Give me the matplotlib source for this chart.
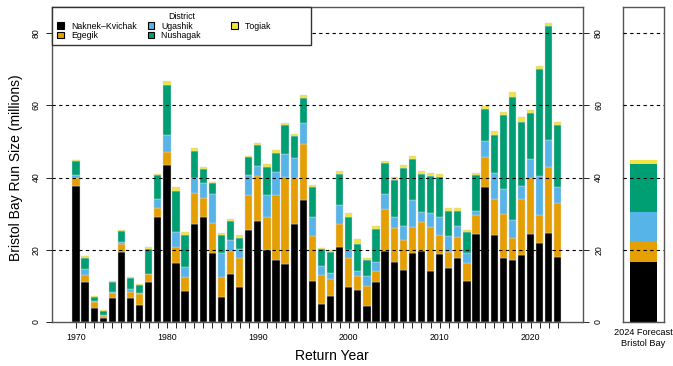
#Bristol Bay sockeye run size by district, 1970-2023 + 2024 forecast

import numpy as np
from matplotlib import pyplot as plt
from matplotlib.patches import Patch

plt.rcParams['font.family'] = ['Liberation Sans', 'DejaVu Sans']

years = list(range(1970, 2024))

naknek_kvichak = [37.7, 11.1, 3.8, 1.0, 6.6, 19.3, 6.7, 4.6, 11.1, 29.2,
                  43.5, 16.2, 8.7, 27.2, 29.0, 19.1, 6.9, 13.3, 9.6, 25.4,
                  28.0, 19.9, 17.1, 16.0, 27.2, 33.9, 11.3, 4.9, 7.3, 20.8,
                  9.6, 8.9, 4.4, 11.0, 19.6, 16.6, 14.3, 19.0, 19.7, 14.1,
                  18.9, 14.9, 17.7, 11.3, 24.4, 37.3, 24.1, 17.6, 17.2, 18.6,
                  24.4, 22.0, 24.6, 18.1]
egegik = [2.2, 1.8, 1.7, 0.75, 1.5, 2.3, 1.7, 3.1, 2.2, 2.3,
          3.5, 4.6, 3.8, 8.6, 5.4, 8.2, 5.5, 6.3, 8.1, 9.7,
          12.4, 9.3, 18.0, 24.1, 12.7, 15.5, 12.5, 8.0, 4.5, 6.3,
          8.1, 3.7, 5.7, 3.0, 11.6, 9.5, 8.5, 7.2, 7.9, 12.2,
          5.1, 4.5, 5.8, 5.0, 5.1, 8.5, 9.9, 12.4, 6.0, 15.4,
          15.5, 7.6, 18.2, 14.8]
ugashik = [0.9, 1.9, 0.2, 0.2, 0.3, 0.6, 0.7, 0.4, 0.1, 2.5,
           4.7, 4.2, 2.6, 4.1, 4.2, 8.0, 6.8, 3.0, 2.4, 5.5,
           2.9, 5.9, 6.4, 6.3, 5.6, 5.8, 5.4, 2.5, 1.9, 5.4,
           2.1, 1.4, 2.5, 2.6, 4.2, 3.1, 3.8, 7.7, 2.9, 3.9,
           5.1, 4.3, 3.1, 2.8, 1.1, 4.2, 7.2, 6.7, 4.9, 3.6,
           5.2, 10.7, 7.6, 4.4]
nushagak = [3.7, 3.0, 1.1, 1.2, 2.7, 3.0, 3.0, 2.1, 6.8, 6.6,
            13.8, 11.3, 8.9, 7.4, 3.8, 3.1, 4.9, 5.4, 3.1, 5.1,
            5.7, 7.8, 5.3, 8.0, 6.0, 6.9, 8.3, 4.9, 5.8, 8.6,
            9.2, 7.6, 4.7, 9.1, 8.6, 10.2, 16.1, 11.1, 10.5, 10.2,
            11.1, 7.0, 4.1, 5.7, 10.0, 9.0, 10.7, 20.7, 34.1, 17.9,
            12.8, 29.7, 31.6, 17.2]
togiak = [0.4, 0.5, 0.3, 0.3, 0.3, 0.4, 0.4, 0.4, 0.7, 0.5,
          1.2, 1.0, 0.9, 0.9, 0.4, 0.3, 0.4, 0.5, 1.0, 0.3,
          0.5, 0.8, 0.9, 0.7, 0.5, 0.7, 0.5, 0.3, 0.3, 0.7,
          1.1, 1.3, 0.4, 1.0, 0.6, 0.7, 0.8, 0.9, 0.9, 0.8,
          0.8, 0.9, 0.9, 0.7, 0.6, 0.8, 0.9, 0.8, 1.4, 1.3,
          0.8, 1.0, 0.9, 0.8]

#2024 forecast, same district order
forecast = [16.6, 5.6, 8.3, 13.3, 1.0]

districts = ['Naknek\u2013Kvichak', 'Egegik', 'Ugashik', 'Nushagak', 'Togiak']
colors = ['#000000', '#E69F00', '#56B4E9', '#009E73', '#F0E442']
series = [naknek_kvichak, egegik, ugashik, nushagak, togiak]

fig = plt.figure(figsize=(6.73, 3.66), dpi=100)
ax = fig.add_axes([52/673, 44/366, 531/673, 315/366])
ax2 = fig.add_axes([623/673, 44/366, 41/673, 315/366])

#MAIN PANEL
bottom = np.zeros(len(years))
for vals, col in zip(series, colors):
    ax.bar(years, vals, bottom=bottom, width=0.8, color=col,
           edgecolor='#d8d8d8', linewidth=0.3, zorder=2)
    bottom += np.array(vals)

ax.set_xlim(1967.36, 2025.77)
ax.set_ylim(0, 87.2)
for g in [20, 40, 60, 80]:
    ax.axhline(g, color='black', lw=0.8, ls=(0, (3, 3)), zorder=3)

ax.set_xticks(years)
ax.set_xticklabels([str(y) if y % 10 == 0 else '' for y in years], fontsize=6.3)
ax.set_yticks([0, 20, 40, 60, 80])
ax.set_yticklabels(['0', '20', '40', '60', '80'], fontsize=6.3, rotation=90, va='center')
ax.tick_params(axis='y', which='both', left=True, right=True, labelright=True,
               length=4.5, width=0.6, pad=3.5)
ax.tick_params(axis='x', length=4.5, width=0.6, pad=3.5)
for s in ax.spines.values():
    s.set_color('#555555')
    s.set_linewidth(1.0)

ax.set_xlabel('Return Year', fontsize=10)
ax.xaxis.set_label_coords(0.528, -0.085)
ax.set_ylabel('Bristol Bay Run Size (millions)', fontsize=10)
ax.yaxis.set_label_coords(-0.055, 0.49)

#legend columns are equal width in the original, pad the shorter labels
leg_labels = ['Naknek\u2013Kvichak', 'Egegik', 'Ugashik',
              'Nushagak' + ' ' * 8, 'Togiak' + ' ' * 15]
handles = [Patch(facecolor=c, edgecolor='black', linewidth=0.8, label=d)
           for d, c in zip(leg_labels, colors)]
leg = ax.legend(handles=handles, ncol=3, title='District', fontsize=6.3,
                title_fontsize=6.3, loc='upper left', bbox_to_anchor=(0, 1),
                borderaxespad=0, handlelength=0.75, handleheight=0.75,
                handletextpad=0.8, labelspacing=0.05, columnspacing=1.27,
                fancybox=False, framealpha=1, edgecolor='#333333', borderpad=0.6)
leg.get_frame().set_linewidth(1.0)

#FORECAST PANEL
b = 0
for v, col in zip(forecast, colors):
    ax2.bar([0.5], [v], bottom=b, width=0.65, color=col, linewidth=0, zorder=2)
    b += v
ax2.set_xlim(0, 1)
ax2.set_ylim(0, 87.2)
for g in [20, 40, 60, 80]:
    ax2.axhline(g, color='black', lw=0.8, ls=(0, (3, 3)), zorder=3)
ax2.set_yticks([])
ax2.set_xticks([0.5])
ax2.set_xticklabels(['2024 Forecast\nBristol Bay'], fontsize=6.6, linespacing=1.3)
ax2.tick_params(axis='x', length=0, pad=4)
for s in ax2.spines.values():
    s.set_color('#555555')
    s.set_linewidth(1.0)

plt.savefig('out.png', dpi=100)
